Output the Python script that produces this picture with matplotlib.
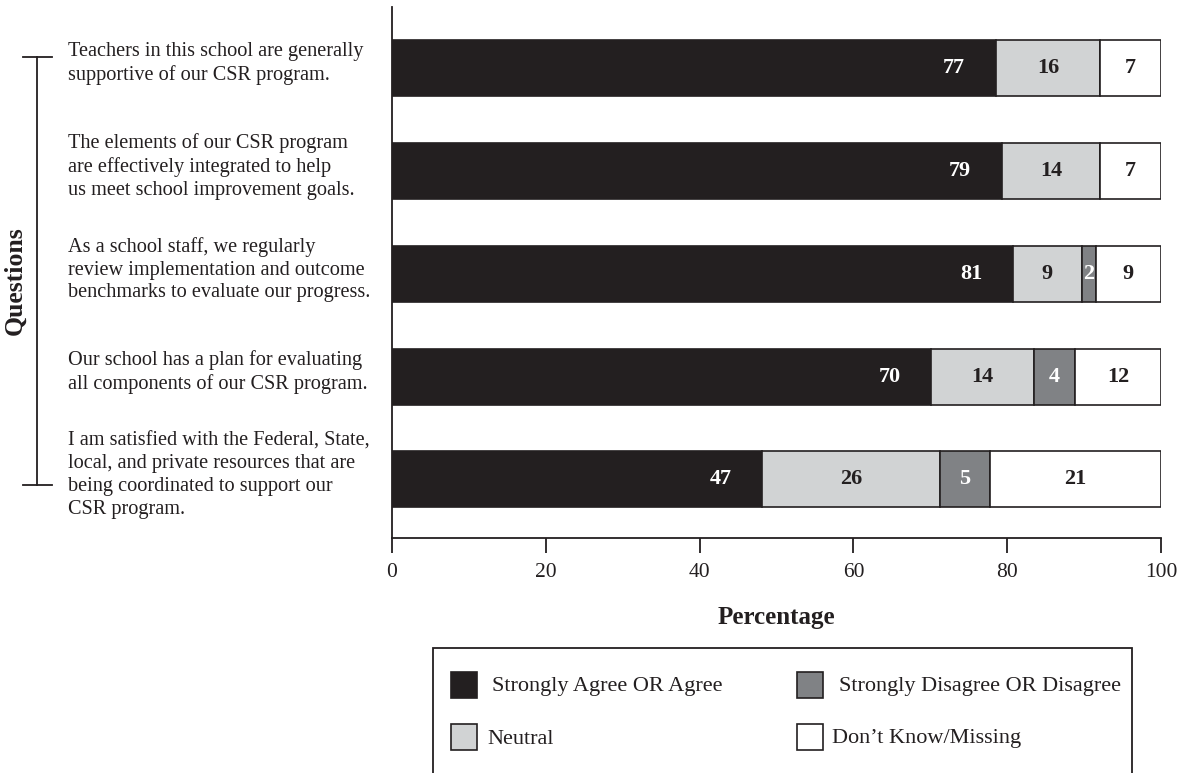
import matplotlib
matplotlib.use('Agg')
import matplotlib.pyplot as plt
from matplotlib.patches import Rectangle
from matplotlib.lines import Line2D

# data
questions = [
    "Teachers in this school are generally\nsupportive of our CSR program.",
    "The elements of our CSR program\nare effectively integrated to help\nus meet school improvement goals.",
    "As a school staff, we regularly\nreview implementation and outcome\nbenchmarks to evaluate our progress.",
    "Our school has a plan for evaluating\nall components of our CSR program.",
    "I am satisfied with the Federal, State,\nlocal, and private resources that are\nbeing coordinated to support our\nCSR program.",
]
categories = ["Strongly Agree OR Agree", "Neutral",
              "Strongly Disagree OR Disagree", "Don\u2019t Know/Missing"]

# bar widths as drawn (percent)
agree_w = [78.5, 79.3, 80.7, 70.1, 48.1]
neutral_w = [13.6, 12.8, 9.0, 13.4, 23.2]
disagree_w = [0.0, 0.0, 1.8, 5.3, 6.4]
missing_w = [7.9, 7.9, 8.5, 11.2, 22.3]

# printed labels
agree_lab = [77, 79, 81, 70, 47]
neutral_lab = [16, 14, 9, 14, 26]
disagree_lab = [None, None, 2, 4, 5]
missing_lab = [7, 7, 9, 12, 21]

colors = ['#231f20', '#d1d3d4', '#808285', '#ffffff']
text_colors = ['white', '#231f20', 'white', '#231f20']
edge = '#231f20'

serif = ['Liberation Serif', 'DejaVu Serif']
plt.rcParams['font.family'] = serif

W, H = 1181, 773
fig = plt.figure(figsize=(W / 100, H / 100), dpi=100)
ax = fig.add_axes([392 / W, (H - 538) / H, (1161 - 392) / W, (538 - 7) / H])

ypos = list(range(len(questions)))
widths = [agree_w, neutral_w, disagree_w, missing_w]
labels = [agree_lab, neutral_lab, disagree_lab, missing_lab]

left = [0.0] * len(questions)
for k in range(4):
    bars = ax.barh(ypos, widths[k], left=left, height=0.545, color=colors[k],
                   edgecolor=edge, linewidth=1.2)
    for i, b in enumerate(bars):
        lab = labels[k][i]
        if lab is None:
            continue
        yc = b.get_y() + b.get_height() / 2
        if k == 0:
            ax.annotate(str(lab), (left[i] + widths[k][i], yc), xytext=(-22, 0),
                        textcoords='offset points', ha='right', va='center',
                        color=text_colors[k], fontsize=16, fontweight='bold')
        else:
            ax.text(left[i] + widths[k][i] / 2, yc, str(lab), ha='center',
                    va='center', color=text_colors[k], fontsize=16,
                    fontweight='bold')
    left = [l + w for l, w in zip(left, widths[k])]

ax.set_xlim(0, 100)
ax.set_ylim(4.569, -0.593)
ax.set_yticks([])
ax.set_xticks([0, 20, 40, 60, 80, 100])
ax.tick_params(axis='x', direction='out', length=11, width=1.3, pad=7,
               labelsize=15.5, colors='#231f20')
for s in ['top', 'right']:
    ax.spines[s].set_visible(False)
for s in ['left', 'bottom']:
    ax.spines[s].set_linewidth(1.3)
    ax.spines[s].set_color('#231f20')
ax.set_xlabel('Percentage', fontsize=18, fontweight='bold', labelpad=17,
              color='#231f20')

# question texts on the left
for i, q in enumerate(questions):
    ax.annotate(q, (68 / W, i), xycoords=('figure fraction', 'data'),
                xytext=(0, 3), textcoords='offset points', ha='left',
                va='center', fontsize=14.6, color='#231f20', linespacing=1.28)

# bracket and "Questions" label
fig.add_artist(Line2D([37 / W, 37 / W], [(H - 57) / H, (H - 485) / H],
                      color=edge, lw=1.3))
for yy in [57, 485]:
    fig.add_artist(Line2D([23 / W, 52 / W], [(H - yy) / H, (H - yy) / H],
                          color=edge, lw=1.3))
fig.text(15 / W, (H - 281) / H, 'Questions', rotation=90, ha='center',
         va='center', fontsize=18.5, fontweight='bold', color='#231f20')

# legend box (open at the bottom, runs off the page)
fig.add_artist(Rectangle((433 / W, -0.05), (1132 - 433) / W,
                         (H - 648) / H + 0.05, transform=fig.transFigure,
                         fill=False, edgecolor=edge, lw=1.3))
sq = 26
leg_pos = [(451, 685, 492), (451, 737, 487), (797, 685, 839), (797, 737, 832)]
for k, (x0, yc, xt) in enumerate(leg_pos):
    fig.add_artist(Rectangle((x0 / W, (H - yc - sq / 2) / H), sq / W, sq / H,
                             transform=fig.transFigure, facecolor=colors[k],
                             edgecolor=edge, lw=1.2))
    fig.text(xt / W, (H - yc - 2) / H, categories[k], ha='left', va='center',
             fontsize=16, color='#231f20')

fig.savefig('out.png', dpi=100)
